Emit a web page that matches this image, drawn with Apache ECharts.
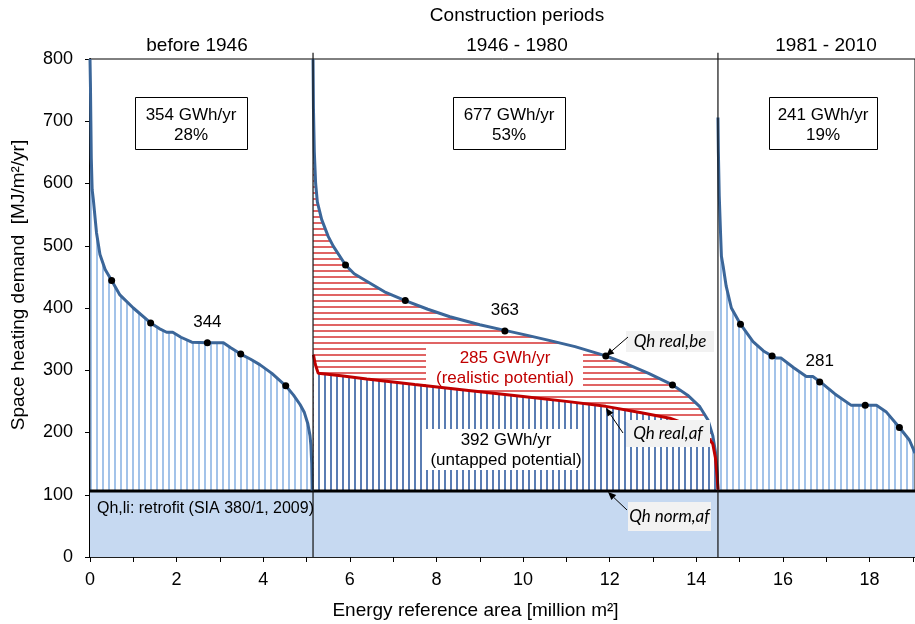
<!DOCTYPE html>
<html>
<head>
<meta charset="utf-8">
<script src="https://cdn.jsdelivr.net/npm/echarts@6/dist/echarts.min.js"></script>
<style>
  html, body { margin: 0; padding: 0; background: #fff; }
  #chart { width: 915px; height: 624px; }
</style>
</head>
<body>
<div id="chart"></div>
<script>
// demand curves, x = cumulated area [million m2], y = MJ/m2/yr
var before1946X = [0, 0.01, 0.02, 0.03, 0.05, 0.077, 0.15, 0.23, 0.35, 0.5, 0.69, 1.0, 1.4, 1.6, 1.77, 1.91, 2.1, 2.35, 2.71, 3.08, 3.25, 3.48, 3.7, 3.92, 4.2, 4.52, 4.7, 4.85, 4.95, 5.03, 5.08, 5.1, 5.12, 5.13];
var before1946Y = [800, 760, 700, 640, 590, 574, 521, 486, 462, 444, 421, 400, 376, 367, 361, 361, 353, 345, 344, 344, 336, 326, 318, 309, 295, 275, 260, 245, 232, 214, 195, 180, 150, 107];

var mid1946X = [5.15, 5.16, 5.18, 5.21, 5.25, 5.35, 5.5, 5.62, 5.9, 6.1, 6.39, 6.8, 7.28, 7.8, 8.31, 9.0, 9.58, 10.1, 10.6, 11.2, 11.91, 12.4, 12.9, 13.45, 13.8, 14.08, 14.27, 14.38, 14.44, 14.48, 14.5];
var mid1946Y = [800, 720, 650, 600, 570, 542, 515, 499, 469, 455, 443, 426, 412, 398, 386, 373, 364, 356, 348, 338, 323, 310, 295, 276.5, 260, 241.5, 220, 195, 170, 140, 108];

var realAfX = [5.16, 5.2, 5.27, 5.8, 6.39, 7.5, 8.69, 10.0, 11.0, 11.91, 12.7, 13.39, 13.9, 14.2, 14.38, 14.44, 14.48, 14.5];
var realAfY = [325, 310, 295, 291, 286, 277, 268, 258, 250, 242, 232, 223, 210, 198, 182, 160, 130, 108];

var late1981X = [14.5, 14.51, 14.53, 14.56, 14.58, 14.62, 14.69, 14.81, 15.02, 15.31, 15.55, 15.75, 15.85, 15.96, 16.25, 16.54, 16.69, 16.85, 17.2, 17.58, 17.9, 18.16, 18.38, 18.69, 18.92, 19.05];
var late1981Y = [706, 650, 580, 520, 483, 467, 435, 400, 374, 346, 331, 323, 319.5, 319.5, 304, 290, 290, 282, 262, 243.6, 243.6, 243.6, 233.5, 208, 188, 167];

// quantile markers (medians are labelled)
var markX = [0.5, 1.4, 2.71, 3.48, 4.52, 5.9, 7.28, 9.58, 11.91, 13.45, 15.02, 15.75, 16.85, 17.9, 18.69];
var markY = [444, 376, 344, 326, 275, 469, 412, 363, 323, 276.5, 374, 323, 281, 243.6, 208];
var medianIdx = [2, 7, 12];

var normAf = 106;          // Qh,li retrofit limit
var periodBounds = [5.15, 14.5];
var xMax = 19.05;

var periodNames = ['before 1946', '1946 - 1980', '1981 - 2010'];
var periodEnergy = ['354 GWh/yr', '677 GWh/yr', '241 GWh/yr'];
var periodShare = ['28%', '53%', '19%'];

function zip(xs, ys) {
  return xs.map(function (x, i) { return [x, ys[i]]; });
}

function hatch(w, h, color, lw, vertical, bg) {
  var c = document.createElement('canvas');
  c.width = w; c.height = h;
  var ctx = c.getContext('2d');
  if (bg) { ctx.fillStyle = bg; ctx.fillRect(0, 0, w, h); }
  ctx.fillStyle = color;
  if (vertical) ctx.fillRect(0, 0, lw, h);
  else ctx.fillRect(0, 0, w, lw);
  return { image: c, repeat: 'repeat' };
}

var lightHatch = hatch(6, 4, '#a3c3e9', 2, true);
var darkHatch = hatch(6, 4, '#5a7db3', 2, true, '#ffffff');
var redHatch = hatch(4, 6, '#e06464', 2, false);

var FONT = '"Liberation Sans", Arial, sans-serif';

function areaSeries(data, fill, z) {
  return {
    type: 'line', data: data, symbol: 'none', silent: true, z: z,
    lineStyle: { width: 0, opacity: 0 },
    areaStyle: { color: fill, opacity: 1 }
  };
}

function curveSeries(data, color) {
  return {
    type: 'line', data: data, symbol: 'none', silent: true, z: 5,
    lineStyle: { color: color, width: 3 }
  };
}

function arrow(x1, y1, x2, y2) {
  var a = Math.atan2(y2 - y1, x2 - x1), L = 8, W = 3.5;
  var bx = x2 - L * Math.cos(a), by = y2 - L * Math.sin(a);
  return [
    { type: 'line', z: 8, shape: { x1: x1, y1: y1, x2: bx, y2: by }, style: { stroke: '#000', lineWidth: 1 } },
    { type: 'polygon', z: 8, shape: { points: [[x2, y2], [bx - W * Math.sin(a), by + W * Math.cos(a)], [bx + W * Math.sin(a), by - W * Math.cos(a)]] }, style: { fill: '#000' } }
  ];
}

function txt(x, y, s, font, fill, z) {
  return { type: 'text', z: z || 8, x: x, y: y, style: { text: s, font: font, fill: fill || '#000', align: 'center', verticalAlign: 'middle', textAlign: 'center', textVerticalAlign: 'middle', lineHeight: 20 } };
}

function tag(x, y, w, h, s) {
  return [
    { type: 'rect', z: 7, shape: { x: x, y: y, width: w, height: h }, style: { fill: '#f2f2f2' } },
    txt(x + w / 2, y + h / 2, s, 'italic 17px Lato, "Open Sans", sans-serif', '#000', 8)
  ];
}

var boxX = [135, 453, 769];
var boxW = [112, 112, 108];
var headX = [197, 517, 826];

var graphics = [];
graphics.push(txt(517, 16, 'Construction periods', '19px ' + FONT));
for (var i = 0; i < 3; i++) {
  graphics.push(txt(headX[i], 46, periodNames[i], '19px ' + FONT));
  graphics.push({ type: 'rect', z: 6, shape: { x: boxX[i] + 0.5, y: 97.5, width: boxW[i], height: 52 }, style: { fill: '#fff', stroke: '#000', lineWidth: 1 } });
  graphics.push(txt(boxX[i] + boxW[i] / 2, 125, periodEnergy[i] + '\n' + periodShare[i], '17px ' + FONT));
}
// potential boxes
graphics.push({ type: 'rect', z: 4, shape: { x: 426, y: 348, width: 157, height: 38 }, style: { fill: '#fff' } });
graphics.push(txt(505, 368, '285 GWh/yr\n(realistic potential)', '17px ' + FONT, '#c00000', 4.5));
graphics.push({ type: 'rect', z: 4, shape: { x: 425, y: 429, width: 153, height: 41 }, style: { fill: '#fff' } });
graphics.push(txt(506, 450, '392 GWh/yr\n(untapped potential)', '17px ' + FONT, '#000', 4.5));
graphics.push({ type: 'text', z: 8, x: 97, y: 509, style: { text: 'Qh,li: retrofit (SIA 380/1, 2009)', font: '16px ' + FONT, fill: '#000', align: 'left', verticalAlign: 'middle', textAlign: 'left', textVerticalAlign: 'middle' } });
graphics = graphics.concat(tag(626, 331, 88, 21, 'Qh real,be'));
graphics = graphics.concat(tag(626, 420, 84, 27, 'Qh real,af'));
graphics = graphics.concat(tag(628, 502, 83, 29, 'Qh norm,af'));
graphics = graphics.concat(arrow(628, 337, 606, 356));
graphics = graphics.concat(arrow(623, 433, 606, 408));
graphics = graphics.concat(arrow(627, 510, 608, 492));

var series = [
  areaSeries(zip(mid1946X, mid1946Y), redHatch, 1),
  areaSeries(zip(realAfX, realAfY), darkHatch, 2),
  areaSeries(zip(before1946X, before1946Y), lightHatch, 2),
  areaSeries(zip(late1981X, late1981Y), lightHatch, 2),
  {
    type: 'line', data: [[0, normAf], [xMax, normAf]], symbol: 'none', silent: true, z: 3,
    lineStyle: { color: '#000', width: 3 },
    areaStyle: { color: '#c6d9f1', opacity: 1 }
  },
  curveSeries(zip(before1946X, before1946Y), '#3b6699'),
  curveSeries(zip(mid1946X, mid1946Y), '#3b6699'),
  curveSeries(zip(late1981X, late1981Y), '#3b6699'),
  curveSeries(zip(realAfX, realAfY), '#c00000'),
  {
    type: 'scatter', z: 6, silent: true, symbolSize: 7,
    itemStyle: { color: '#000', opacity: 1 },
    data: markX.map(function (x, i) {
      var d = { value: [x, markY[i]] };
      if (medianIdx.indexOf(i) >= 0) {
        d.label = { show: true, position: 'top', distance: 9, formatter: String(markY[i]), fontFamily: FONT, fontSize: 17, color: '#000', opacity: 1, textBorderWidth: 0 };
      }
      return d;
    })
  }
];
periodBounds.forEach(function (b) {
  series.push({
    type: 'line', data: [[b, 0], [b, 810]], symbol: 'none', silent: true, z: 5, clip: false,
    lineStyle: { color: '#111', width: 1.2 }
  });
});

var chart = echarts.init(document.getElementById('chart'));
chart.setOption({
  animation: false,
  backgroundColor: '#fff',
  grid: {
    left: 90, top: 59, right: 0, bottom: 67,
    show: true, borderColor: '#000', borderWidth: 1, backgroundColor: 'transparent',
    containLabel: false, outerBoundsMode: 'none'
  },
  xAxis: {
    type: 'value', min: 0, max: xMax, interval: 1,
    name: 'Energy reference area [million m²]', nameLocation: 'middle', nameGap: 44,
    nameTextStyle: { fontFamily: FONT, fontSize: 19, color: '#000', padding: [0, 54, 0, 0] },
    axisLine: { show: true, lineStyle: { color: '#000', width: 1.5 } },
    axisTick: { show: true, length: 5, lineStyle: { color: '#000' } },
    axisLabel: {
      fontFamily: FONT, fontSize: 18, color: '#000', margin: 14, showMaxLabel: false,
      formatter: function (v) {
        var r = Math.round(v);
        return (Math.abs(v - r) < 1e-6 && r % 2 === 0) ? String(r) : '';
      }
    },
    splitLine: { show: false }
  },
  yAxis: {
    type: 'value', min: 0, max: 800, interval: 100,
    name: 'Space heating demand  [MJ/m²/yr]', nameLocation: 'middle', nameGap: 62,
    nameTextStyle: { fontFamily: FONT, fontSize: 19, color: '#000', padding: [0, 0, 0, 46] },
    axisLine: { show: true, lineStyle: { color: '#000', width: 2 } },
    axisTick: { show: true, length: 5, lineStyle: { color: '#000' } },
    axisLabel: { fontFamily: FONT, fontSize: 18, color: '#000', margin: 17 },
    splitLine: { show: false }
  },
  graphic: graphics,
  series: series
});
</script>
</body>
</html>
